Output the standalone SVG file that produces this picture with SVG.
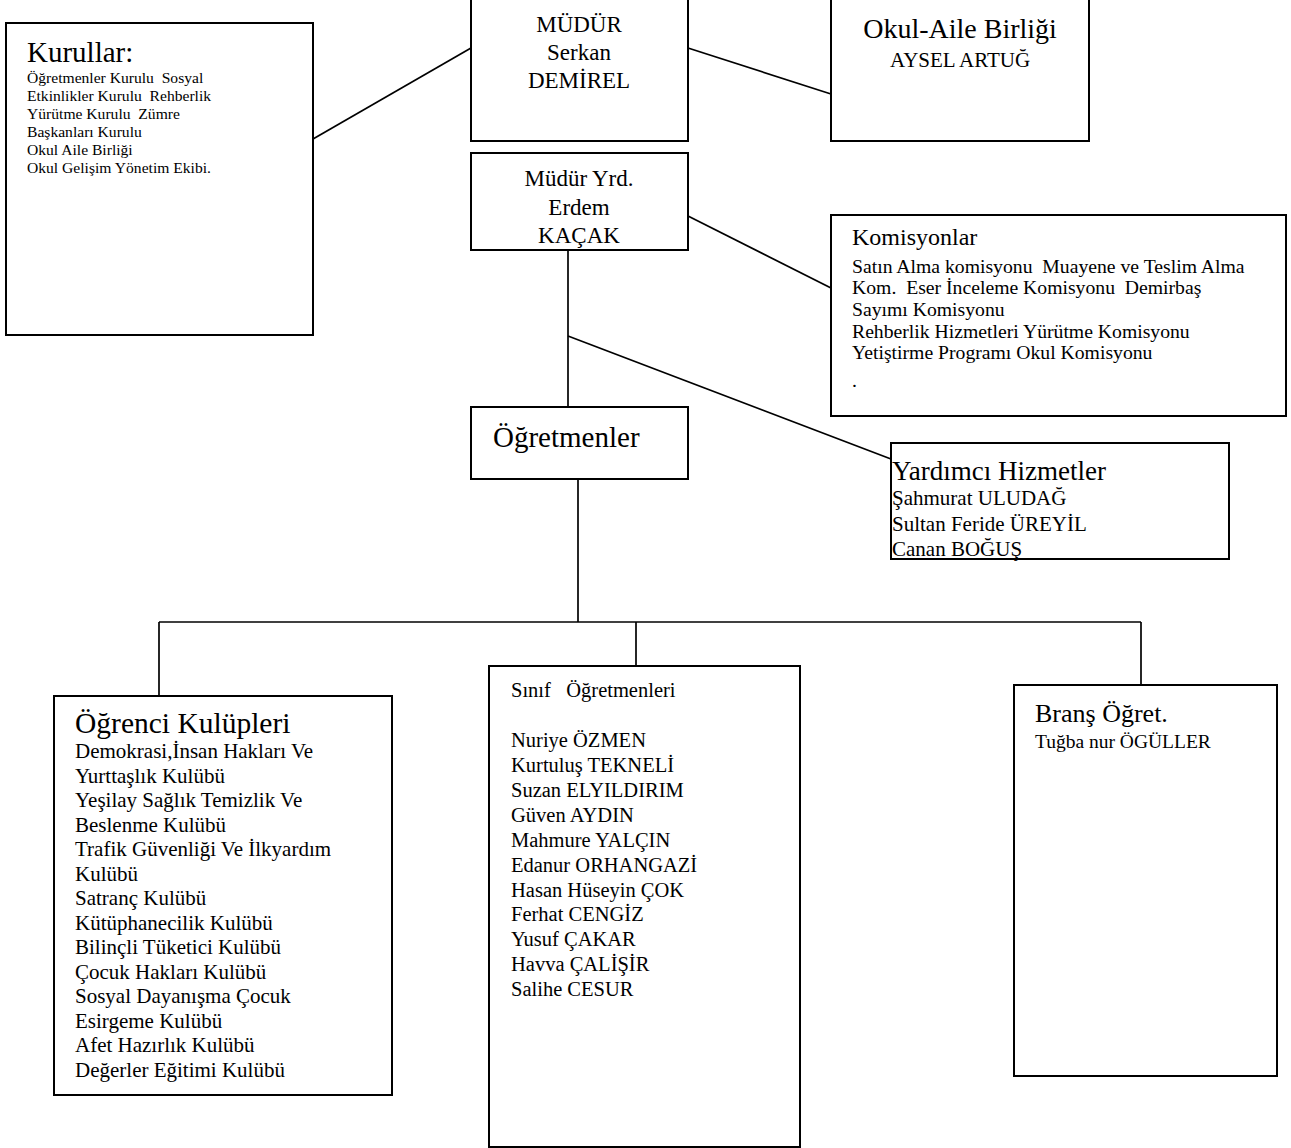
<svg xmlns="http://www.w3.org/2000/svg" width="1291" height="1148" viewBox="0 0 1291 1148">
<style>
  .box { fill: #ffffff; stroke: #000000; stroke-width: 2; }
  .ln { fill: none; stroke: #000000; stroke-width: 1.7; }
  text { font-family: "Liberation Serif", "Times New Roman", serif; fill: #000000; white-space: pre; }
  .c { text-anchor: middle; }
</style>
<rect x="0" y="0" width="1291" height="1148" fill="#ffffff"/>

<g id="connectors">
  <line class="ln" x1="313" y1="139" x2="471" y2="48"/>
  <line class="ln" x1="688" y1="48" x2="831" y2="94"/>
  <line class="ln" x1="688" y1="216" x2="831" y2="288"/>
  <line class="ln" x1="568" y1="250" x2="568" y2="407"/>
  <line class="ln" x1="568" y1="336" x2="891" y2="459"/>
  <line class="ln" x1="578" y1="479" x2="578" y2="622"/>
  <line class="ln" x1="159" y1="622" x2="1141" y2="622"/>
  <line class="ln" x1="159" y1="622" x2="159" y2="696"/>
  <line class="ln" x1="636" y1="622" x2="636" y2="666"/>
  <line class="ln" x1="1141" y1="622" x2="1141" y2="685"/>
</g>

<g id="kurullar">
  <rect class="box" x="6" y="23" width="307" height="312"/>
  <text x="27" y="62" font-size="29">Kurullar:</text>
  <text x="27" y="83" font-size="15.6">Öğretmenler Kurulu  Sosyal</text>
  <text x="27" y="101" font-size="15.6">Etkinlikler Kurulu  Rehberlik</text>
  <text x="27" y="119" font-size="15.6">Yürütme Kurulu  Zümre</text>
  <text x="27" y="137" font-size="15.6">Başkanları Kurulu</text>
  <text x="27" y="155" font-size="15.6">Okul Aile Birliği</text>
  <text x="27" y="173" font-size="15.6">Okul Gelişim Yönetim Ekibi.</text>
</g>

<g id="mudur">
  <rect class="box" x="471" y="-5" width="217" height="146"/>
  <text class="c" x="579" y="32" font-size="23">MÜDÜR</text>
  <text class="c" x="579" y="60" font-size="23">Serkan</text>
  <text class="c" x="579" y="88" font-size="23">DEMİREL</text>
</g>

<g id="okul-aile">
  <rect class="box" x="831" y="-5" width="258" height="146"/>
  <text class="c" x="960" y="38" font-size="28">Okul-Aile Birliği</text>
  <text class="c" x="960" y="67" font-size="21">AYSEL ARTUĞ</text>
</g>

<g id="mudur-yrd">
  <rect class="box" x="471" y="153" width="217" height="97"/>
  <text class="c" x="579" y="186" font-size="23">Müdür Yrd.</text>
  <text class="c" x="579" y="215" font-size="23">Erdem</text>
  <text class="c" x="579" y="243" font-size="23">KAÇAK</text>
</g>

<g id="komisyonlar">
  <rect class="box" x="831" y="215" width="455" height="201"/>
  <text x="852" y="245" font-size="24">Komisyonlar</text>
  <text x="852" y="273" font-size="19.7">Satın Alma komisyonu  Muayene ve Teslim Alma</text>
  <text x="852" y="294" font-size="19.7">Kom.  Eser İnceleme Komisyonu  Demirbaş</text>
  <text x="852" y="316" font-size="19.7">Sayımı Komisyonu</text>
  <text x="852" y="338" font-size="19.7">Rehberlik Hizmetleri Yürütme Komisyonu</text>
  <text x="852" y="359" font-size="19.7">Yetiştirme Programı Okul Komisyonu</text>
  <text x="852" y="387" font-size="19.7">.</text>
</g>

<g id="ogretmenler">
  <rect class="box" x="471" y="407" width="217" height="72"/>
  <text x="493" y="447" font-size="29">Öğretmenler</text>
</g>

<g id="yardimci">
  <rect class="box" x="891" y="443" width="338" height="116"/>
  <text x="892" y="480" font-size="27">Yardımcı Hizmetler</text>
  <text x="892" y="505" font-size="21">Şahmurat ULUDAĞ</text>
  <text x="892" y="531" font-size="21">Sultan Feride ÜREYİL</text>
  <text x="892" y="556" font-size="21">Canan BOĞUŞ</text>
</g>

<g id="ogrenci-kulupleri">
  <rect class="box" x="54" y="696" width="338" height="399"/>
  <text x="75" y="733" font-size="29.5">Öğrenci Kulüpleri</text>
  <text x="75" y="758" font-size="21">Demokrasi,İnsan Hakları Ve</text>
  <text x="75" y="783" font-size="21">Yurttaşlık Kulübü</text>
  <text x="75" y="807" font-size="21">Yeşilay Sağlık Temizlik Ve</text>
  <text x="75" y="832" font-size="21">Beslenme Kulübü</text>
  <text x="75" y="856" font-size="21">Trafik Güvenliği Ve İlkyardım</text>
  <text x="75" y="881" font-size="21">Kulübü</text>
  <text x="75" y="905" font-size="21">Satranç Kulübü</text>
  <text x="75" y="930" font-size="21">Kütüphanecilik Kulübü</text>
  <text x="75" y="954" font-size="21">Bilinçli Tüketici Kulübü</text>
  <text x="75" y="979" font-size="21">Çocuk Hakları Kulübü</text>
  <text x="75" y="1003" font-size="21">Sosyal Dayanışma Çocuk</text>
  <text x="75" y="1028" font-size="21">Esirgeme Kulübü</text>
  <text x="75" y="1052" font-size="21">Afet Hazırlık Kulübü</text>
  <text x="75" y="1077" font-size="21">Değerler Eğitimi Kulübü</text>
</g>

<g id="sinif-ogretmenleri">
  <rect class="box" x="489" y="666" width="311" height="481"/>
  <text x="511" y="697" font-size="20.5">Sınıf   Öğretmenleri</text>
  <text x="511" y="747" font-size="20.5">Nuriye ÖZMEN</text>
  <text x="511" y="772" font-size="20.5">Kurtuluş TEKNELİ</text>
  <text x="511" y="797" font-size="20.5">Suzan ELYILDIRIM</text>
  <text x="511" y="822" font-size="20.5">Güven AYDIN</text>
  <text x="511" y="847" font-size="20.5">Mahmure YALÇIN</text>
  <text x="511" y="872" font-size="20.5">Edanur ORHANGAZİ</text>
  <text x="511" y="897" font-size="20.5">Hasan Hüseyin ÇOK</text>
  <text x="511" y="921" font-size="20.5">Ferhat CENGİZ</text>
  <text x="511" y="946" font-size="20.5">Yusuf ÇAKAR</text>
  <text x="511" y="971" font-size="20.5">Havva ÇALİŞİR</text>
  <text x="511" y="996" font-size="20.5">Salihe CESUR</text>
</g>

<g id="brans-ogret">
  <rect class="box" x="1014" y="685" width="263" height="391"/>
  <text x="1035" y="722" font-size="26">Branş Öğret.</text>
  <text x="1035" y="748" font-size="19.5">Tuğba nur ÖGÜLLER</text>
</g>
</svg>
